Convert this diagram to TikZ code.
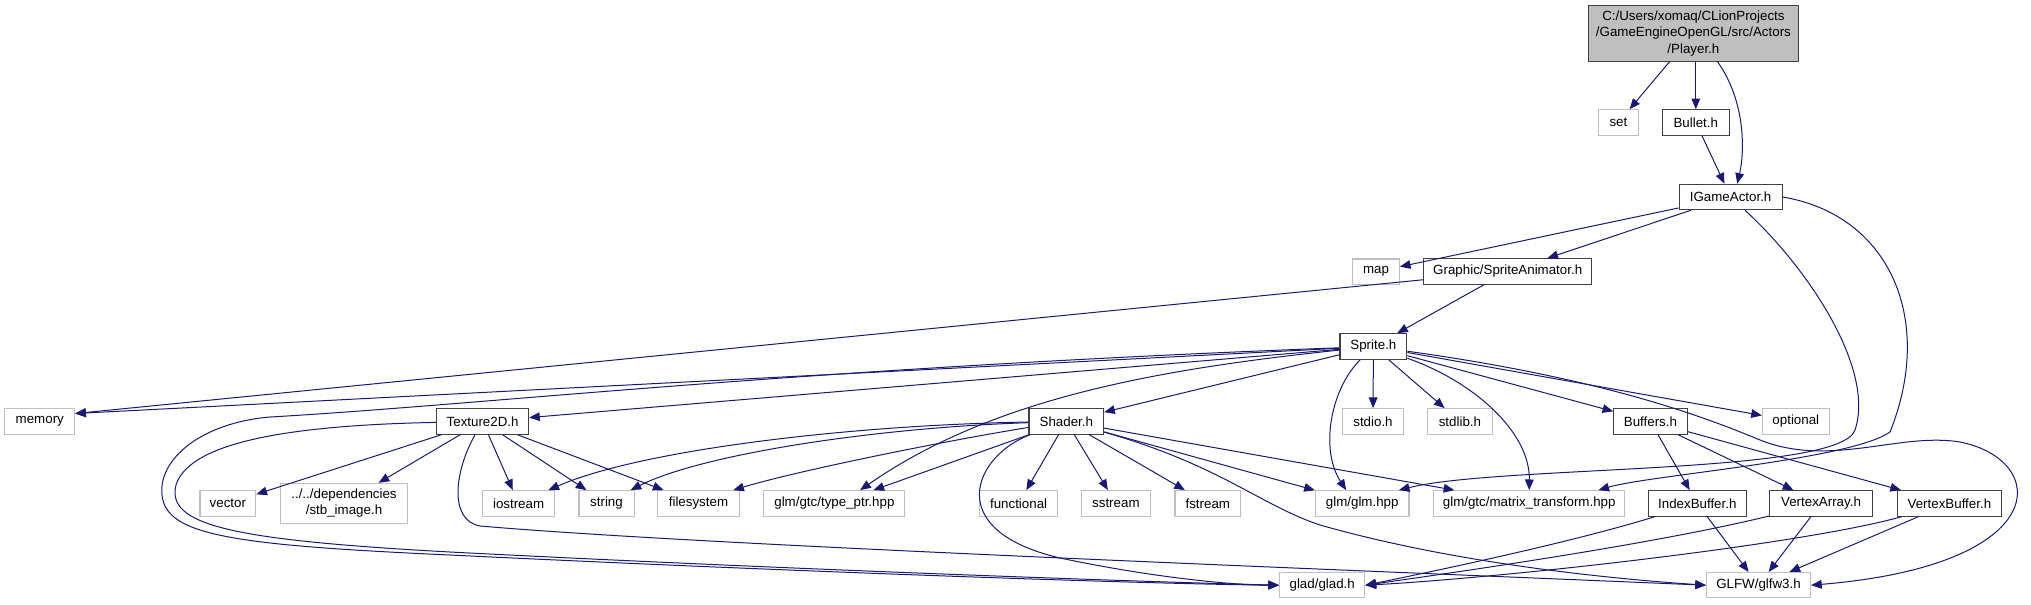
\documentclass[tikz,border=0pt]{standalone}
\usepackage{fontspec}
\setmainfont{Liberation Sans}
\usetikzlibrary{arrows.meta}
\definecolor{edgeblue}{HTML}{191970}
\definecolor{extgray}{HTML}{BFBFBF}

\begin{document}
\begin{tikzpicture}[x=0.75pt,y=-0.75pt,
  font=\fontsize{10}{12.5}\selectfont,
  file/.style={draw=black!75, fill=white, inner sep=0pt, minimum height=19.1pt, line width=0.8pt},
  sysfile/.style={file, draw=extgray},
  mainfile/.style={file, fill=extgray, align=center, minimum height=41.5pt},
  dep/.style={draw=edgeblue, line width=0.75pt, -{Triangle[length=8pt,width=6.5pt]}}]
\useasboundingbox (0,0) rectangle (2031,604);

% top part
\node[mainfile, minimum width=157pt] (player) at (1693.4,33.4) {C:/Users/xomaq/CLionProjects\\/GameEngineOpenGL/src/Actors\\/Player.h};
\node[sysfile, minimum width=30.2pt] (set) at (1618.4,122.5) {set};
\node[file, minimum width=50.3pt] (bullet) at (1695.8,122.5) {Bullet.h};
\node[file, minimum width=77.3pt] (igame) at (1730.6,197) {IGameActor.h};
\node[sysfile, minimum width=35pt] (mapn) at (1376,271.7) {map};
\node[file, minimum width=126.2pt] (sanim) at (1507.7,271.5) {Graphic/SpriteAnimator.h};
\node[file, minimum width=50.1pt] (sprite) at (1373.4,346.5) {Sprite.h};

% middle row
\node[sysfile, minimum width=52.3pt] (memory) at (39.8,421.5) {memory};
\node[file, minimum width=69pt] (tex) at (482.6,421.5) {Texture2D.h};
\node[file, minimum width=56pt] (shader) at (1066.3,421.4) {Shader.h};
\node[sysfile, minimum width=45.8pt] (stdio) at (1373,421.4) {stdio.h};
\node[sysfile, minimum width=48.2pt] (stdlib) at (1459.9,421.4) {stdlib.h};
\node[file, minimum width=55pt] (buffers) at (1650.4,421.4) {Buffers.h};
\node[sysfile, minimum width=50pt] (optional) at (1795.8,421.4) {optional};

% lower row
\node[sysfile, minimum width=41.9pt] (vector) at (227.9,503.4) {vector};
\node[sysfile, minimum width=95.4pt, minimum height=29.8pt, align=center] (stb) at (344,503.2) {../../dependencies\\/stb\_image.h};
\node[sysfile, minimum width=53.9pt] (iostream) at (518.6,503.4) {iostream};
\node[sysfile, minimum width=41.3pt] (string) at (606.5,503.4) {string};
\node[sysfile, minimum width=61.3pt] (filesys) at (698.5,503.4) {filesystem};
\node[sysfile, minimum width=105.8pt] (typeptr) at (834.4,503.4) {glm/gtc/type\_ptr.hpp};
\node[sysfile, minimum width=58.6pt] (functional) at (1018.6,503.4) {functional};
\node[sysfile, minimum width=51.8pt] (sstream) at (1115.9,503.4) {sstream};
\node[sysfile, minimum width=49.2pt] (fstream) at (1207.8,503.4) {fstream};
\node[sysfile, minimum width=70.2pt] (glm) at (1362.2,503.4) {glm/glm.hpp};
\node[sysfile, minimum width=143pt] (mtx) at (1529.2,503.4) {glm/gtc/matrix\_transform.hpp};
\node[file, minimum width=73.4pt] (ibuf) at (1697.3,503.4) {IndexBuffer.h};
\node[file, minimum width=77.3pt] (varray) at (1821,503.4) {VertexArray.h};
\node[file, minimum width=78.3pt] (vbuf) at (1949.4,503.4) {VertexBuffer.h};

% bottom row
\node[sysfile, minimum width=64pt] (glad) at (1322.2,585.2) {glad/glad.h};
\node[sysfile, minimum width=78pt] (glfw) at (1758.5,585.2) {GLFW/glfw3.h};

% Player.h, Bullet.h, IGameActor.h
\draw[dep] (player) -- (set);
\draw[dep] (player.south -| bullet) -- (bullet);
\draw[dep] ([xshift=18pt]player.south) .. controls (1745,100) and (1745,150) .. ([xshift=5pt]igame.north);
\draw[dep] (bullet) -- (igame);
\draw[dep] (igame) -- (mapn);
\draw[dep] (igame) -- (sanim);
\draw[dep] (igame) .. controls (1810,270) and (1875,370) .. (1855,430) .. controls (1840,475) and (1500,465) .. ([xshift=-8pt]glm.north east);
\draw[dep] (igame.east) .. controls (1890,215) and (1935,320) .. (1890,432) .. controls (1850,460) and (1650,475) .. ([xshift=-20pt]mtx.north east);

% SpriteAnimator.h
\draw[dep] (sanim) -- ([yshift=6pt]memory.east);
\draw[dep] (sanim) -- (sprite);

% Sprite.h
\draw[dep] (sprite) -- ([yshift=6pt]memory.east);
\draw[dep] (sprite) -- (tex);
\draw[dep] (sprite) .. controls (800,368) and (480,405) .. (270,417) .. controls (200,423) and (158,460) .. (162,495) .. controls (166,535) and (230,545) .. (450,555) .. controls (800,572) and (1150,584) .. (glad.west);
\draw[dep] (sprite) -- (shader);
\draw[dep] (sprite) .. controls (1150,370) and (990,400) .. ([xshift=-34pt]typeptr.north east);
\draw[dep] (sprite) -- (stdio);
\draw[dep] (sprite) -- (stdlib);
\draw[dep] (sprite) .. controls (1330,390) and (1320,450) .. ([xshift=-12pt]glm.north);
\draw[dep] (sprite) .. controls (1470,380) and (1530,430) .. (mtx.north);
\draw[dep] (sprite) -- (buffers);
\draw[dep] (sprite) -- (optional);
\draw[dep] (sprite) .. controls (1600,378) and (1700,415) .. (1760,440) .. controls (1830,468) and (1900,432) .. (1960,442) .. controls (2050,460) and (2055,565) .. (glfw.east);

% Texture2D.h
\draw[dep] (tex) -- (vector);
\draw[dep] (tex) -- (stb);
\draw[dep] (tex) -- (iostream);
\draw[dep] (tex) -- (string);
\draw[dep] (tex) -- (filesys);
\draw[dep] (tex) .. controls (300,425) and (190,440) .. (176,485) .. controls (166,525) and (230,540) .. (450,552) .. controls (800,570) and (1150,582) .. (glad.west);
\draw[dep] (tex) .. controls (455,470) and (448,520) .. (480,526) .. controls (700,545) and (1300,568) .. (glfw.west);

% Shader.h
\draw[dep] (shader) .. controls (850,425) and (640,450) .. ([xshift=-5pt]iostream.north east);
\draw[dep] (shader) .. controls (870,428) and (700,455) .. ([xshift=-3pt]string.north east);
\draw[dep] (shader) .. controls (950,440) and (800,470) .. ([xshift=-5pt]filesys.north east);
\draw[dep] (shader) -- ([xshift=-24pt]typeptr.north east);
\draw[dep] (shader) -- (functional);
\draw[dep] (shader) -- (sstream);
\draw[dep] (shader) -- (fstream);
\draw[dep] (shader) -- (glm);
\draw[dep] (shader) -- (mtx);
\draw[dep] (shader) .. controls (975,455) and (940,530) .. (1060,558) .. controls (1150,577) and (1230,585) .. (glad.west);
\draw[dep] (shader) .. controls (1220,465) and (1260,505) .. (1320,525) .. controls (1450,562) and (1600,578) .. (glfw.west);

% Buffers.h
\draw[dep] (buffers) -- (ibuf);
\draw[dep] (buffers) -- (varray);
\draw[dep] (buffers) -- (vbuf);
\draw[dep] (ibuf) .. controls (1580,540) and (1450,568) .. (glad.east);
\draw[dep] (ibuf) -- (glfw);
\draw[dep] (varray) .. controls (1650,545) and (1450,573) .. (glad.east);
\draw[dep] (varray) -- (glfw);
\draw[dep] (vbuf) .. controls (1800,545) and (1500,578) .. (glad.east);
\draw[dep] (vbuf) -- (glfw);
\end{tikzpicture}
\end{document}
